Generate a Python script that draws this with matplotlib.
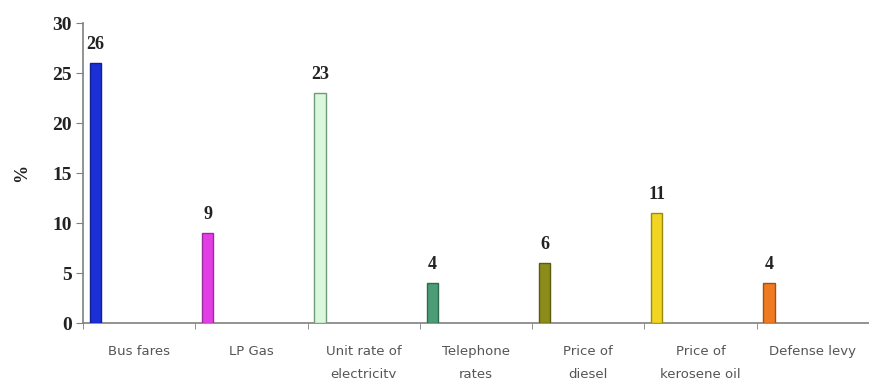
import matplotlib
matplotlib.use("Agg")
import matplotlib.pyplot as plt
import numpy as np

categories = ["Bus fares", "LP Gas", "Unit rate of\nelectricity", "Telephone\nrates",
              "Price of\ndiesel", "Price of\nkerosene oil", "Defense levy"]
values = [26, 9, 23, 4, 6, 11, 4]
colors = ["#1b2fd6", "#e23ee6", "#dcf8dc", "#4c9c78", "#8c8c1a", "#f2d422", "#f07a22"]
edges = ["#10208a", "#9a2aa0", "#6f9a78", "#2f6a50", "#5a5a10", "#9a8a10", "#a05010"]
yticks = [0, 5, 10, 15, 20, 25, 30]

fig = plt.figure(figsize=(8.69, 3.78), dpi=100)
ax = fig.add_axes([0.0955, 0.1455, 0.9045, 0.7935])

serif = "Liberation Serif"
sans = "DejaVu Sans"

x = np.arange(len(categories))
bar_w = 0.1
offset = 0.06
bars = ax.bar(x + offset, values, width=bar_w, align="edge",
              color=colors, edgecolor=edges, linewidth=1.0, zorder=3)
for xi, v in zip(x, values):
    ax.text(xi + offset + bar_w / 2, v + 1.0, str(v), ha="center", va="bottom",
            fontsize=13, fontweight="bold", family=serif, color="#222222")

ax.set_xlim(0, len(categories))
ax.set_ylim(0, 30)
ax.set_yticks(yticks)
ax.set_yticklabels([str(t) for t in yticks], fontsize=14, fontweight="bold",
                   family=serif, color="#222222")
ax.set_ylabel("%", fontsize=13, fontweight="bold", family=serif, color="#222222",
              labelpad=16)

ax.set_xticks(x + 0.5)
ax.set_xticklabels(categories, fontsize=9.5, family=sans, color="#555555",
                   linespacing=2.0, va="top")
ax.tick_params(axis="x", length=0, pad=16)
ax.set_xticks(np.arange(len(categories) + 1), minor=True)
ax.tick_params(axis="x", which="minor", length=4, direction="out", color="#808080")
ax.tick_params(axis="y", length=5, direction="out", color="#808080", pad=3)

for s in ["top", "right"]:
    ax.spines[s].set_visible(False)
for s in ["left", "bottom"]:
    ax.spines[s].set_color("#808080")
    ax.spines[s].set_linewidth(1.2)

fig.savefig("out.png", dpi=100)
